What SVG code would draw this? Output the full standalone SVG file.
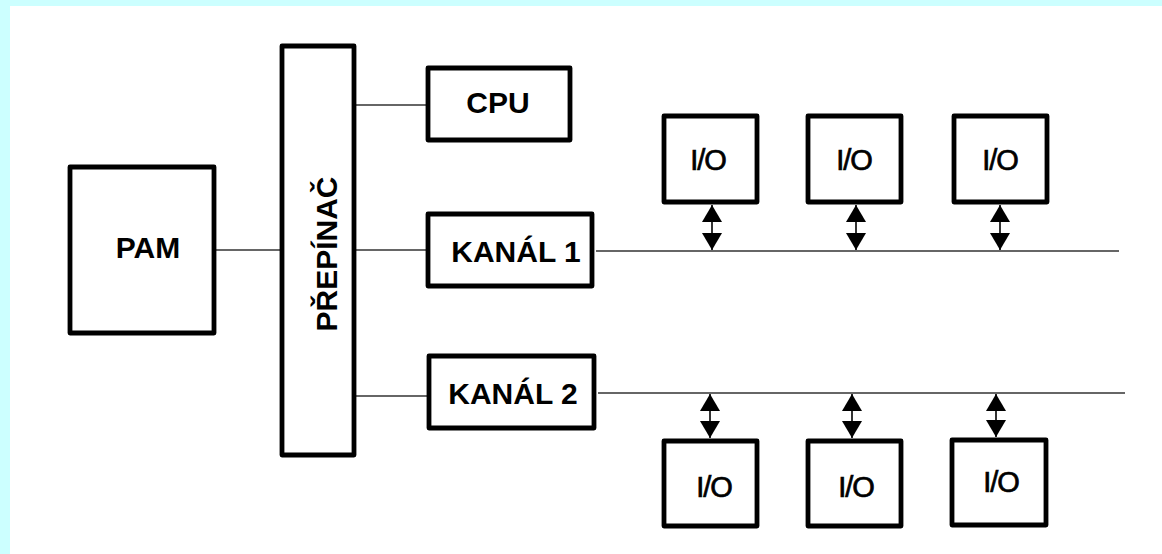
<svg xmlns="http://www.w3.org/2000/svg" width="1162" height="554" viewBox="0 0 1162 554">
<defs>
<style>
.box{fill:#fff;stroke:#000;stroke-width:4.8;stroke-linejoin:round}
.lbl{font-family:"Liberation Sans",Arial,sans-serif;font-weight:bold;font-size:30px;fill:#000;text-anchor:middle}
.io{font-family:"Liberation Sans",Arial,sans-serif;font-size:29px;fill:#000;stroke:#000;stroke-width:0.7;letter-spacing:-1px;text-anchor:middle}
.ln{stroke:#333;stroke-width:1.6;fill:none}
.ar{stroke:#000;stroke-width:1.6;fill:none;marker-start:url(#ah);marker-end:url(#ah)}
</style>
<marker id="ah" viewBox="0 0 17 20" refX="17" refY="10" markerWidth="17" markerHeight="20" markerUnits="userSpaceOnUse" orient="auto-start-reverse">
<path d="M0,0 L17,10 L0,20 Z" fill="#000"/>
</marker>
</defs>
<rect x="0" y="0" width="1162" height="554" fill="#fff"/>
<rect x="0" y="0" width="1162" height="6" fill="#ccffff"/>
<rect x="0" y="0" width="10" height="554" fill="#ccffff"/>

<g id="connectors">
<line class="ln" x1="216" y1="250" x2="282" y2="250"/>
<line class="ln" x1="354" y1="105" x2="428" y2="105"/>
<line class="ln" x1="354" y1="250" x2="428" y2="250"/>
<line class="ln" x1="354" y1="396" x2="428" y2="396"/>
<line class="ln" x1="596" y1="251" x2="1119" y2="251"/>
<line class="ln" x1="598" y1="393" x2="1125" y2="393"/>
<line class="ar" x1="712" y1="205" x2="712" y2="250"/>
<line class="ar" x1="856" y1="205" x2="856" y2="250"/>
<line class="ar" x1="1000" y1="205" x2="1000" y2="250"/>
<line class="ar" x1="710" y1="394" x2="710" y2="438"/>
<line class="ar" x1="852" y1="394" x2="852" y2="438"/>
<line class="ar" x1="996" y1="394" x2="996" y2="437"/>
</g>

<g id="pam"><rect class="box" x="70" y="167" width="144" height="166"/><text class="lbl" x="148" y="258">PAM</text></g>
<g id="prepinac"><rect class="box" x="282" y="46" width="72" height="409"/><text class="lbl" transform="translate(337,254) rotate(-90)">PŘEPÍNAČ</text></g>
<g id="cpu"><rect class="box" x="428" y="68" width="142" height="72"/><text class="lbl" x="498" y="113">CPU</text></g>
<g id="kanal1"><rect class="box" x="428" y="214" width="164" height="72"/><text class="lbl" x="516" y="262">KANÁL 1</text></g>
<g id="kanal2"><rect class="box" x="429" y="356" width="165" height="72"/><text class="lbl" x="513" y="404">KANÁL 2</text></g>

<g id="io1"><rect class="box" x="664" y="116" width="93" height="86"/><text class="io" x="708" y="170">I/O</text></g>
<g id="io2"><rect class="box" x="808" y="116" width="93" height="86"/><text class="io" x="854" y="170">I/O</text></g>
<g id="io3"><rect class="box" x="954" y="116" width="93" height="86"/><text class="io" x="1000" y="170">I/O</text></g>
<g id="io4"><rect class="box" x="664" y="441" width="93" height="85"/><text class="io" x="714" y="497">I/O</text></g>
<g id="io5"><rect class="box" x="808" y="441" width="93" height="85"/><text class="io" x="856" y="497">I/O</text></g>
<g id="io6"><rect class="box" x="952" y="440" width="94" height="85"/><text class="io" x="1001" y="492">I/O</text></g>
</svg>
